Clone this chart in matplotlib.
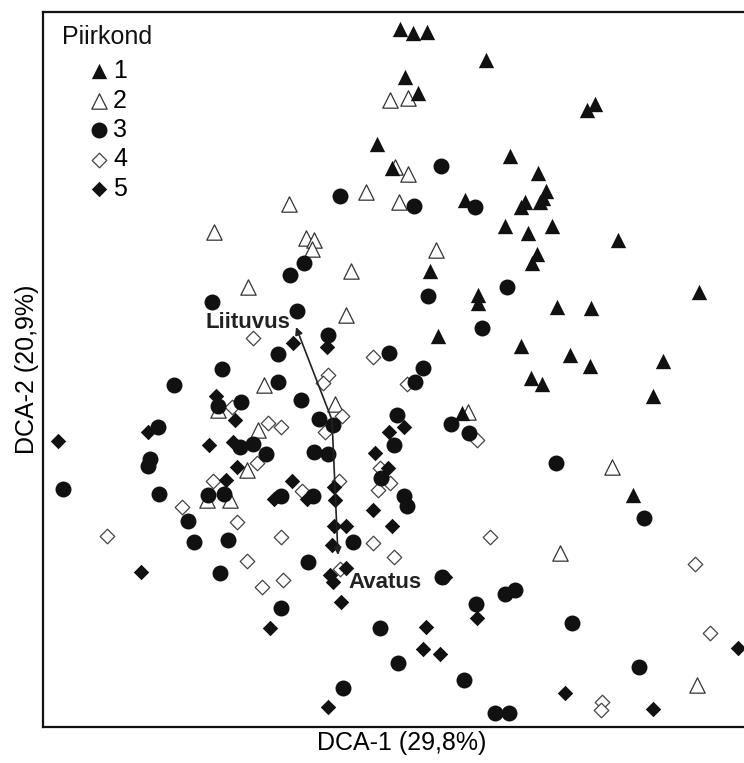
import matplotlib
matplotlib.use("Agg")
import matplotlib.pyplot as plt

plt.rcParams['font.family'] = ['Liberation Sans', 'DejaVu Sans']

# ---- data (DCA site scores; y axis downward-positive as read) ----
g1_x = [400, 413, 427, 486, 405, 418, 587, 595, 377, 392, 510, 538, 546, 543, 525, 521, 540, 465,
        505, 528, 552, 618, 537, 532, 430, 478, 478, 557, 591, 699, 438, 521, 570, 590, 663, 531,
        542, 653, 462, 633]
g1_y = [29, 33, 32, 60, 77, 93, 110, 104, 144, 168, 156, 173, 191, 198, 202, 207, 202, 200,
        226, 233, 226, 240, 254, 263, 271, 295, 303, 307, 308, 292, 336, 346, 355, 366, 361, 378,
        384, 396, 413, 495]

g2_x = [390, 408, 395, 408, 399, 366, 289, 214, 306, 314, 312, 436, 351, 248, 346, 264, 335, 258,
        247, 230, 468, 612, 560, 697, 218, 207]
g2_y = [100, 98, 167, 174, 202, 192, 204, 232, 238, 240, 249, 250, 271, 287, 315, 385, 404, 430,
        470, 500, 412, 467, 553, 685, 410, 500]

g3_x = [340, 441, 414, 475, 304, 290, 428, 212, 297, 507, 482, 328, 278, 389, 222, 174, 278, 423,
        415, 241, 301, 218, 319, 333, 397, 451, 469, 158, 240, 253, 266, 314, 328, 394, 150, 148,
        63, 159, 208, 224, 281, 313, 381, 404, 407, 556, 188, 194, 228, 220, 308, 353, 442, 281,
        476, 505, 515, 380, 572, 398, 464, 639, 644, 343, 495, 509]
g3_y = [196, 166, 206, 207, 263, 275, 296, 302, 311, 287, 328, 335, 354, 353, 369, 385, 382, 368,
        382, 402, 400, 406, 419, 425, 415, 424, 433, 427, 447, 444, 454, 452, 454, 445, 459, 466,
        489, 494, 495, 494, 496, 496, 478, 496, 506, 463, 521, 542, 540, 573, 562, 542, 577, 608,
        604, 594, 590, 628, 623, 663, 680, 667, 518, 688, 713, 713]

g4_x = [253, 373, 328, 323, 407, 232, 268, 281, 342, 325, 477, 257, 213, 302, 339, 380, 390, 378,
        182, 237, 107, 247, 262, 283, 281, 373, 394, 340, 490, 695, 710, 602, 601]
g4_y = [338, 357, 375, 383, 384, 407, 423, 427, 416, 432, 440, 463, 481, 491, 481, 468, 483, 490,
        507, 522, 536, 561, 587, 580, 537, 543, 557, 569, 537, 564, 633, 702, 710]

g5_x = [293, 327, 216, 235, 58, 148, 209, 233, 237, 226, 292, 334, 335, 274, 307, 375, 373, 389,
        404, 388, 392, 334, 346, 332, 330, 333, 346, 341, 141, 270, 426, 423, 440, 477, 445, 565,
        653, 738, 328]
g5_y = [343, 347, 396, 420, 441, 432, 445, 442, 467, 480, 481, 487, 500, 499, 499, 453, 510, 432,
        427, 468, 526, 526, 526, 545, 575, 582, 568, 602, 572, 628, 627, 649, 654, 618, 577, 693,
        709, 648, 707]

groups = ['1', '2', '3', '4', '5']
legend_title = 'Piirkond'

# environmental vectors
env_names = ['Liituvus', 'Avatus']
env_origin = (332, 420)
env_x = [296, 338]
env_y = [327, 555]

# ---- figure ----
W, H = 744, 763
fig = plt.figure(figsize=(W / 100, H / 100), dpi=100)
L, R, T, B = 43, 761, 12, 727
ax = fig.add_axes([L / W, 1 - B / H, (R - L) / W, (B - T) / H])
ax.set_xlim(L, R)
ax.set_ylim(B, T)
ax.set_xticks([])
ax.set_yticks([])
for s in ax.spines.values():
    s.set_linewidth(1.6)
    s.set_color('#111111')

dark = '#111111'
edge = '#333333'
h2 = ax.scatter(g2_x, g2_y, marker='^', s=122, facecolors='white', edgecolors=edge, linewidths=0.9, zorder=2)
h4 = ax.scatter(g4_x, g4_y, marker='D', s=55, facecolors='white', edgecolors='#444444', linewidths=0.9, zorder=2)
h1 = ax.scatter(g1_x, g1_y, marker='^', s=122, color=dark, linewidths=0, zorder=3)
h3 = ax.scatter(g3_x, g3_y, marker='o', s=132, color=dark, linewidths=0, zorder=3)
h5 = ax.scatter(g5_x, g5_y, marker='D', s=62, color=dark, linewidths=0, zorder=3)

# vectors
offsets = [(-6, 5, 'right'), (10, -27, 'left')]
for name, x, y, (dx, dy, ha) in zip(env_names, env_x, env_y, offsets):
    ax.annotate('', xy=(x, y), xytext=env_origin,
                arrowprops=dict(arrowstyle='-|>', color='#222222', lw=1.2,
                                mutation_scale=11, shrinkA=0, shrinkB=0), zorder=4)
    ax.annotate(name, xy=(x, y), xytext=(dx, dy), textcoords='offset pixels',
                ha=ha, va='center', fontsize=16, fontweight='bold', color='#222222', zorder=5)

ax.set_xlabel('DCA-1 (29,8%)', fontsize=18, labelpad=3)
ax.set_ylabel('DCA-2 (20,9%)', fontsize=18, labelpad=3)

fs = 18
fs_px = fs * 100 / 72
fig.text(62 / W, 1 - 37 / H, legend_title, fontsize=fs, ha='left', va='center', color='#111111')
leg = ax.legend([h1, h2, h3, h4, h5], groups, loc='upper left',
                bbox_to_anchor=(62 / W, 1 - 59 / H), bbox_transform=fig.transFigure,
                frameon=False, borderpad=0, borderaxespad=0, fontsize=fs,
                handlelength=74 / fs_px, handletextpad=-23 / fs_px, labelspacing=0.22,
                scatterpoints=1)

fig.savefig('out.png', dpi=100)
